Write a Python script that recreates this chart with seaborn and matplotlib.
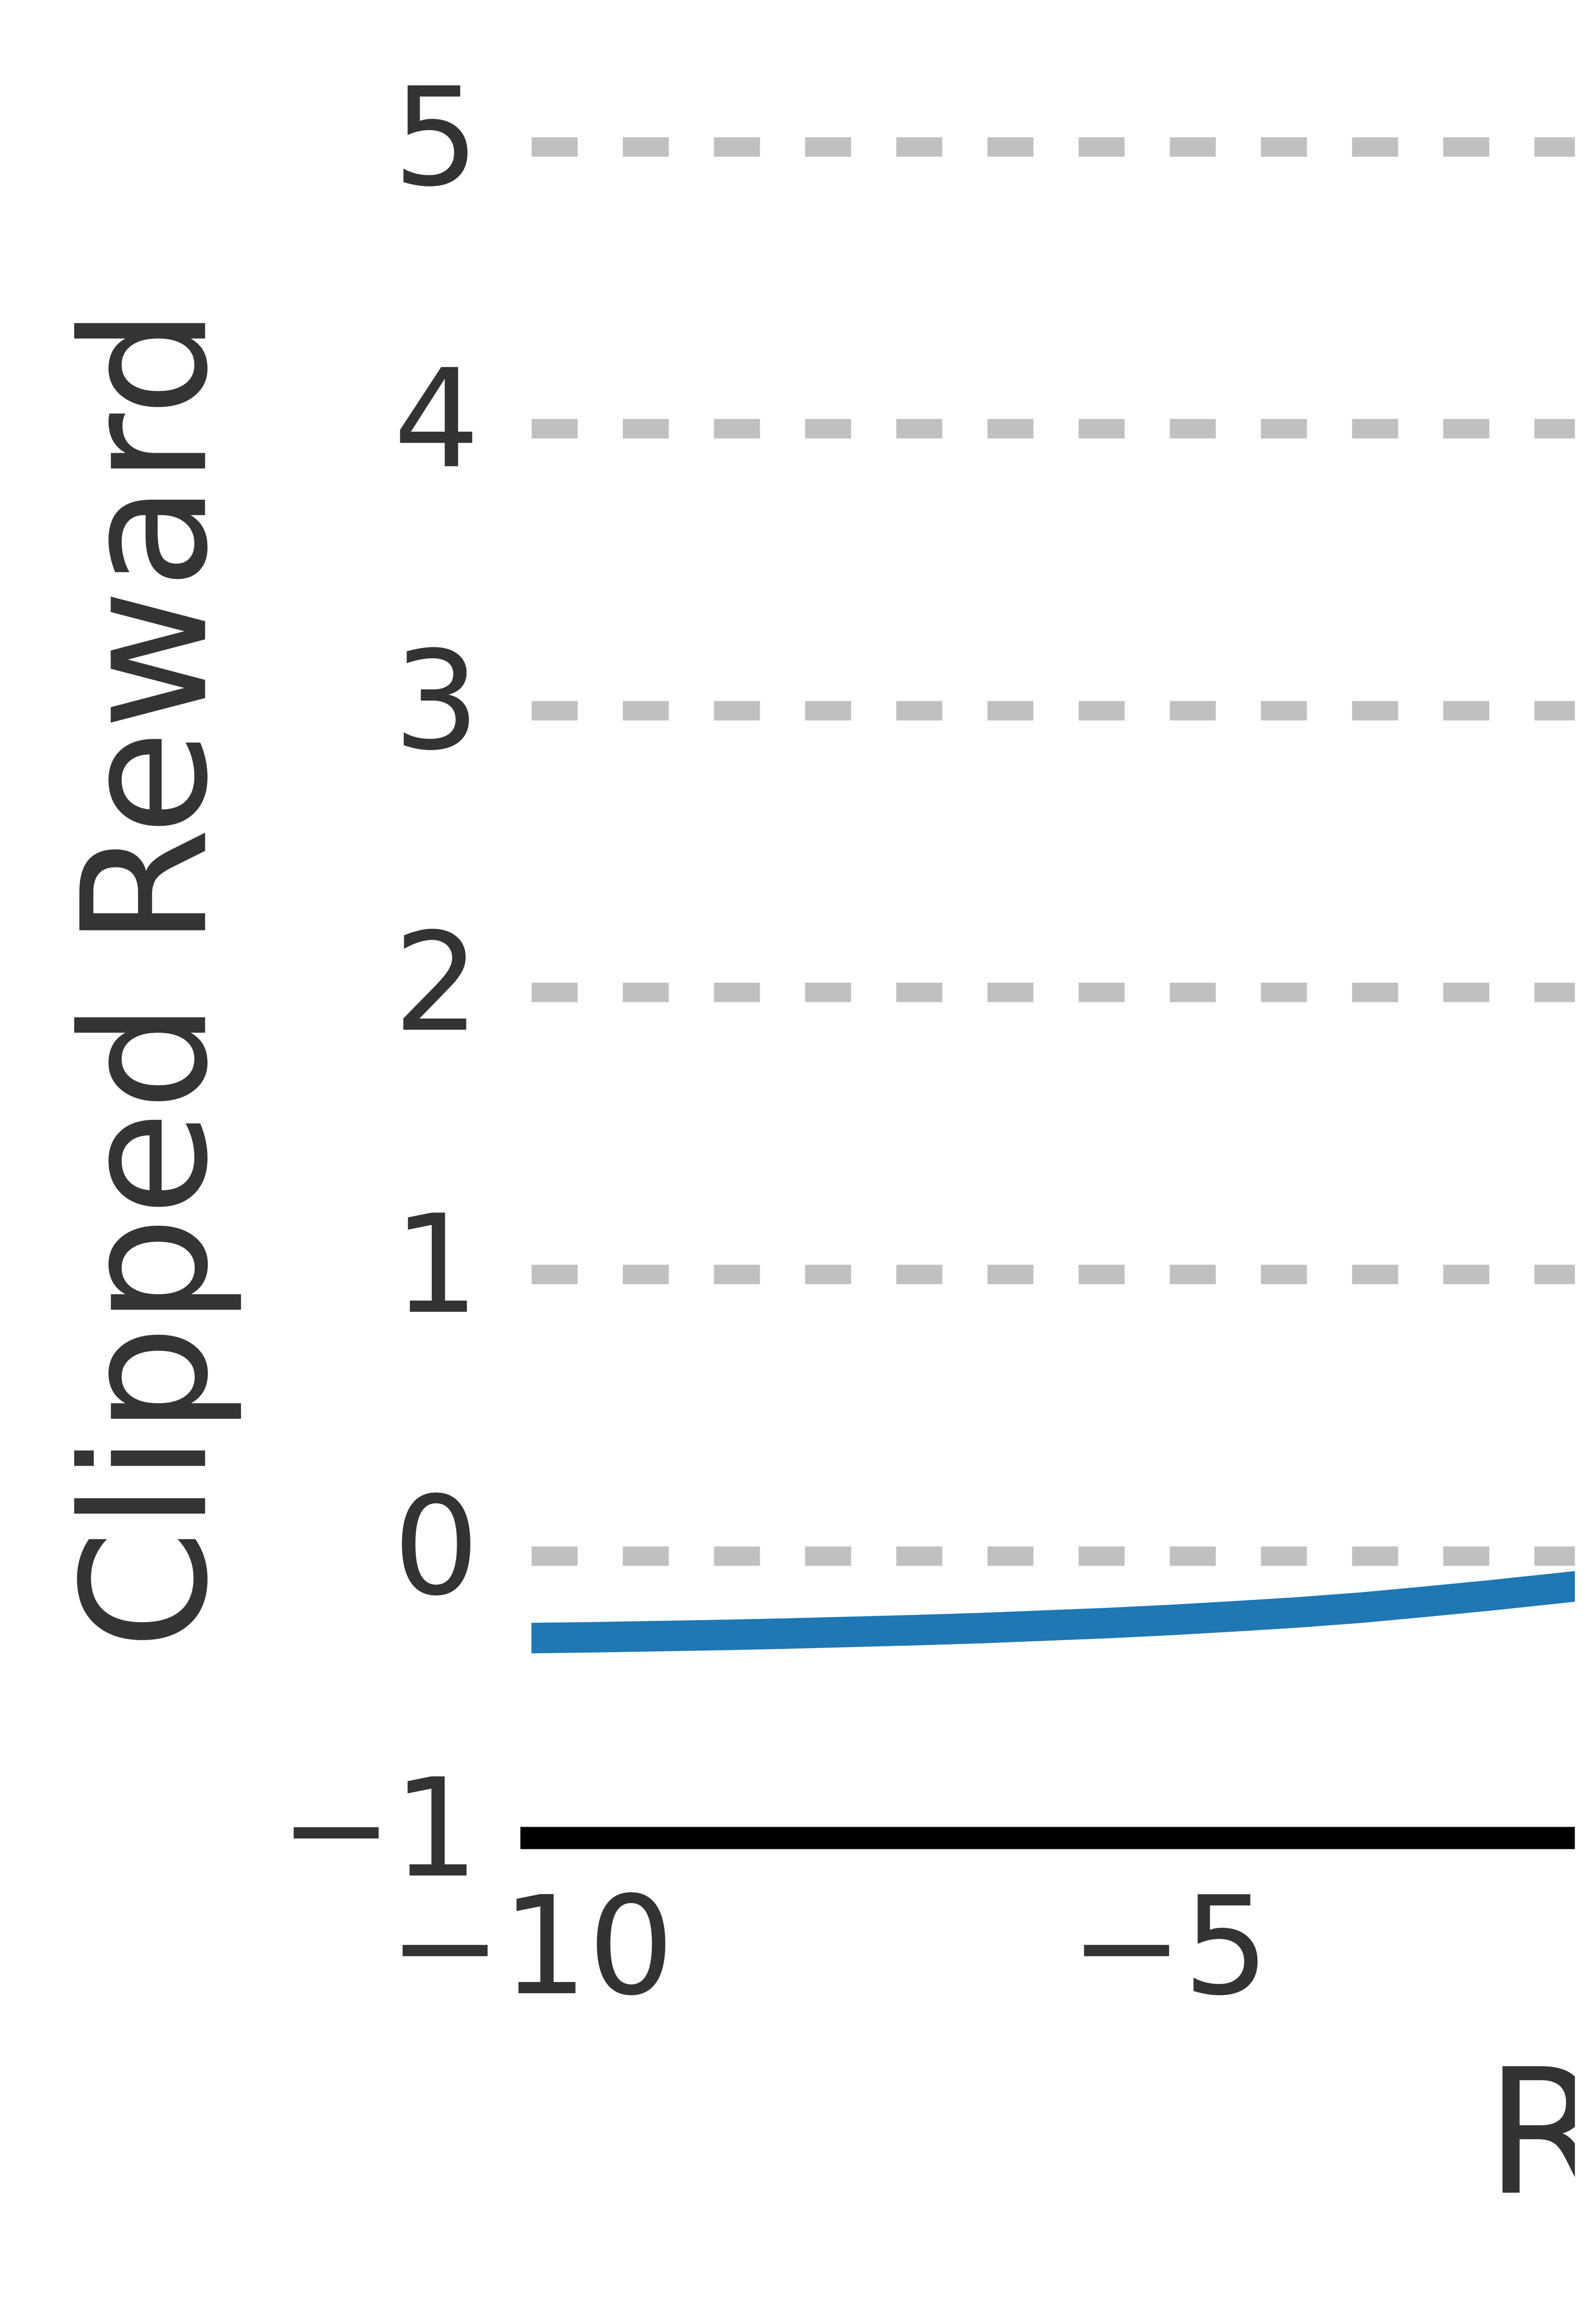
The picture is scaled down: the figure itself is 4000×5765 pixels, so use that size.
import numpy as np
import pandas as pd
import matplotlib
matplotlib.use("Agg")
import matplotlib.pyplot as plt
from matplotlib.patches import Rectangle
import seaborn as sns

# values
reward = [-10, -9.5, -9, -8.5, -8, -7.5, -7, -6.5, -6, -5.5, -5,
          -4.5, -4, -3.5, -3, -2.5, -2, -1.75]
clipped = [-0.291, -0.288, -0.284, -0.280, -0.275, -0.269, -0.263, -0.256,
           -0.247, -0.238, -0.227, -0.214, -0.200, -0.183, -0.162, -0.140,
           -0.116, -0.104]
xticks = [-10, -5, 0, 5, 10]
yticks = [-1, 0, 1, 2, 3, 4, 5]

df = pd.DataFrame({"Reward": reward, "Clipped Reward": clipped})

sns.set_style("white")
plt.rcParams["font.family"] = ["DejaVu Sans"]
txt = "#333333"

fig = plt.figure(figsize=(4, 5.765), dpi=1000)
# axes runs past the right edge of the picture, as in the reference crop
ax = fig.add_axes([0.333, 0.2009, 1.6, 0.7476])

sns.lineplot(data=df, x="Reward", y="Clipped Reward", ax=ax,
             color="#1f77b4", linewidth=5.5, zorder=3)

ax.set_xlim(-10, 10)
ax.set_ylim(-1, 5.1)
ax.set_xticks(xticks)
ax.set_yticks(yticks)
ax.yaxis.grid(True, color="#c0c0c0", linewidth=3.5, dashes=(2.37, 2.33))
ax.xaxis.grid(False)
ax.set_axisbelow(True)

for s in ["top", "right", "left"]:
    ax.spines[s].set_visible(False)
ax.spines["bottom"].set_color("black")
ax.spines["bottom"].set_linewidth(4.0)
ax.spines["bottom"].set_zorder(4)

ax.tick_params(axis="both", length=0, pad=9.4, labelsize=24.5, labelcolor=txt)
plt.setp(ax.get_yticklabels(), va="center")
ax.set_xlabel("Reward", fontsize=31.3, color=txt, labelpad=7)
ax.set_ylabel("Clipped Reward", fontsize=31, color=txt, labelpad=6.8)

# the reference is cut a little before its right border
fig.add_artist(Rectangle((3947 / 4000, 0), 1 - 3947 / 4000, 1,
                         transform=fig.transFigure, facecolor="white",
                         edgecolor="none", zorder=100))

fig.savefig("out.png", dpi=1000, facecolor="white")
